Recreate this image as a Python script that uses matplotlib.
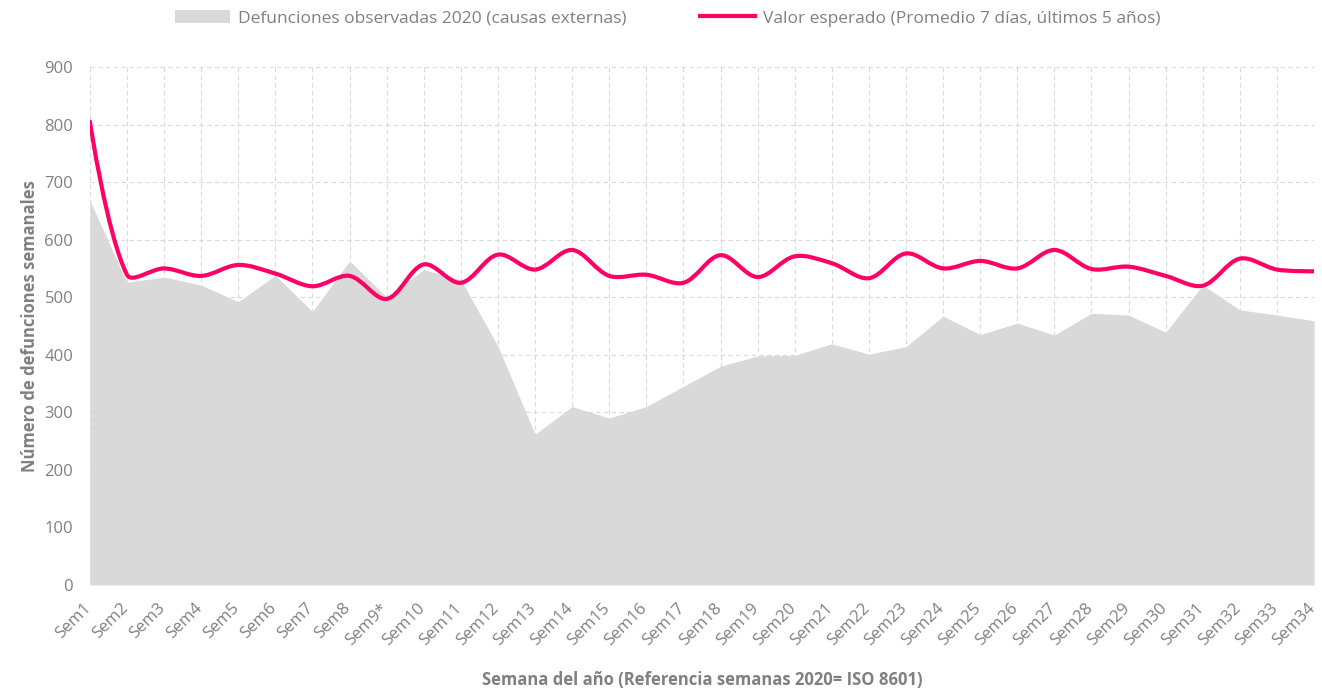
import numpy as np
import matplotlib
matplotlib.use("Agg")
import matplotlib.pyplot as plt
import matplotlib.transforms as mtransforms
from matplotlib.path import Path
from matplotlib.patches import PathPatch, Patch
from matplotlib.lines import Line2D

plt.rcParams['font.family'] = ['Open Sans', 'DejaVu Sans']

semanas = ['Sem1', 'Sem2', 'Sem3', 'Sem4', 'Sem5', 'Sem6', 'Sem7', 'Sem8', 'Sem9*',
           'Sem10', 'Sem11', 'Sem12', 'Sem13', 'Sem14', 'Sem15', 'Sem16', 'Sem17',
           'Sem18', 'Sem19', 'Sem20', 'Sem21', 'Sem22', 'Sem23', 'Sem24', 'Sem25',
           'Sem26', 'Sem27', 'Sem28', 'Sem29', 'Sem30', 'Sem31', 'Sem32', 'Sem33', 'Sem34']
observadas = [668, 526, 535, 521, 492, 538, 475, 563, 500, 548, 530, 415, 262, 310,
              290, 310, 345, 380, 398, 399, 419, 401, 414, 467, 435, 455, 434, 472,
              469, 439, 521, 478, 469, 459]
esperado = [805, 539, 550, 537, 556, 541, 519, 537, 497, 557, 525, 574, 548, 582,
            537, 539, 525, 573, 535, 571, 559, 533, 576, 550, 563, 550, 582, 549,
            553, 537, 520, 567, 548, 545]

gris = '#d9d9d9'
rosa = '#ff0066'
texto = '#808080'

fig = plt.figure(figsize=(13.22, 6.88), dpi=100)
ax = fig.add_axes([0.068, 0.1497, 0.926, 0.753])

x = np.arange(len(semanas))
ax.fill_between(x, observadas, 0, color=gris, linewidth=0, zorder=2)

# smoothed line like excel: bezier segments, handles scaled by segment length
y = np.array(esperado, dtype=float)
sx, sy = 37.2, 0.576  # rough px per unit, only used to weigh segment lengths
n = len(x)
def dist(i, j):
    return np.hypot((x[j] - x[i]) * sx, (y[j] - y[i]) * sy)
verts = [(x[0], y[0])]
codes = [Path.MOVETO]
for i in range(n - 1):
    i0 = max(i - 1, 0)
    i3 = min(i + 2, n - 1)
    d01, d12, d23 = dist(i0, i), dist(i, i + 1), dist(i + 1, i3)
    f1 = d12 / (d01 + d12) / 1.5 if d01 > 0 else 0
    f2 = d12 / (d12 + d23) / 1.5 if d23 > 0 else 0
    c1 = (x[i] + (x[i + 1] - x[i0]) * f1 / 2, y[i] + (y[i + 1] - y[i0]) * f1 / 2)
    c2 = (x[i + 1] - (x[i3] - x[i]) * f2 / 2, y[i + 1] - (y[i3] - y[i]) * f2 / 2)
    verts += [c1, c2, (x[i + 1], y[i + 1])]
    codes += [Path.CURVE4] * 3
ax.add_patch(PathPatch(Path(verts, codes), facecolor='none', edgecolor=rosa,
                       linewidth=3, capstyle='round', joinstyle='round', zorder=3))

ax.set_xlim(0, n - 1)
ax.set_ylim(0, 900)
ax.set_yticks(range(0, 901, 100))
ax.set_xticks(x)
ax.set_xticklabels(semanas, rotation=45, ha='right', va='top', rotation_mode='anchor')
ax.tick_params(axis='both', length=0, colors=texto, labelsize=12)
ax.tick_params(axis='x', pad=11)
ax.tick_params(axis='y', pad=12)
shift = mtransforms.ScaledTranslation(-5 / 72, 0, fig.dpi_scale_trans)
for lab in ax.get_xticklabels():
    lab.set_transform(lab.get_transform() + shift)
ax.grid(True, color='#d9d9d9', linestyle=(0, (4, 3)), linewidth=0.8, zorder=1)
ax.set_axisbelow(True)
for s in ax.spines.values():
    s.set_visible(False)

ax.set_ylabel('Número de defunciones semanales', color=texto, fontsize=12,
              fontweight='bold', labelpad=4)
ax.set_xlabel('Semana del año (Referencia semanas 2020= ISO 8601)', color=texto,
              fontsize=12, fontweight='bold', labelpad=16)

handles = [Patch(facecolor=gris, edgecolor='none'),
           Line2D([0], [0], color=rosa, linewidth=3)]
labels = ['Defunciones observadas 2020 (causas externas)',
          'Valor esperado (Promedio 7 días, últimos 5 años)']
leg = fig.legend(handles, labels, loc='upper center', bbox_to_anchor=(0.505, 1.008),
                 ncol=2, frameon=False, fontsize=12.5, handlelength=3.2,
                 handleheight=0.8, columnspacing=4.2, handletextpad=0.45)
for t in leg.get_texts():
    t.set_color(texto)

fig.savefig('out.png', dpi=100)
